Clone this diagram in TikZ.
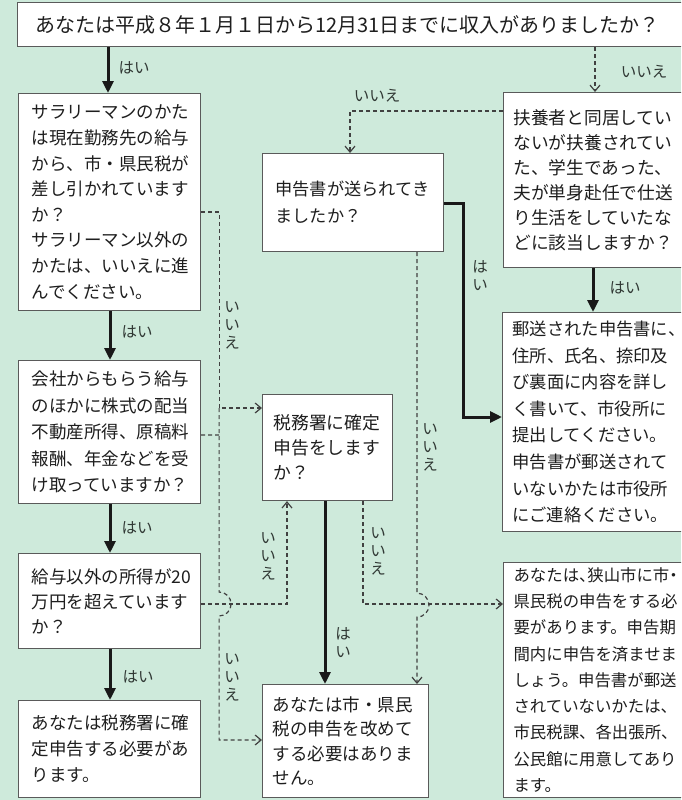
\documentclass[tikz,border=0pt]{standalone}
\usepackage{fontspec}
\setmainfont{Noto Sans CJK JP}
\newfontfamily\jphalt[RawFeature=+halt]{Noto Sans CJK JP}
\newcommand{\hw}[1]{{\jphalt #1}}
\usetikzlibrary{arrows.meta,calc}
\definecolor{bgmint}{RGB}{206,234,219}
\definecolor{boxline}{RGB}{90,90,90}
\definecolor{txt}{RGB}{30,30,30}
\definecolor{lblc}{RGB}{48,56,52}
\definecolor{dashc}{RGB}{65,65,65}
\hfuzz=100pt
\hbadness=10000
\begin{document}
\begin{tikzpicture}[x=1pt,y=-1pt,
  box/.style={draw=boxline,line width=1.1pt,fill=white,anchor=north west,inner sep=0pt,align=left,text=txt},
  yesarrow/.style={line width=3pt,draw=black!90,-{Triangle[length=12pt,width=11pt]}},
  noarrow/.style={line width=1.2pt,draw=dashc,dash pattern=on 4pt off 3pt,-{Straight Barb[length=6pt,width=10pt]}},
  lbl/.style={text=lblc,font=\fontsize{15.5}{18}\selectfont,inner sep=0pt,align=center},
]
\useasboundingbox (0,0) rectangle (681,800);
\clip (0,0) rectangle (681,800);
\fill[bgmint] (0,0) rectangle (681,800);

% boxes
\node[box,minimum width=683pt,minimum height=44pt,text width=647pt,font=\fontsize{20}{24}\selectfont] (T) at (17,2)
  {あなたは平成８年１月１日から12月31日までに収入がありましたか？};
\node[box,minimum width=182pt,minimum height=217pt,text width=156pt,font=\fontsize{17.5}{25.6}\selectfont] (A) at (18,93)
  {サラリーマンのかた\\は現在勤務先の給与\\から、市・県民税が\\差し引かれています\\か？\\サラリーマン以外の\\かたは、いいえに進\\んでください。};
\node[box,minimum width=182pt,minimum height=143pt,text width=156pt,font=\fontsize{17.5}{26.5}\selectfont] (B) at (18,360)
  {会社からもらう給与\\のほかに株式の配当\\不動産所得、原稿料\\報酬、年金などを受\\け取っていますか？};
\node[box,minimum width=182pt,minimum height=95pt,text width=156pt,font=\fontsize{17.5}{25}\selectfont] (C) at (18,553)
  {給与以外の所得が20\\万円を超えています\\か？};
\node[box,minimum width=182pt,minimum height=97pt,text width=156pt,font=\fontsize{17.5}{26}\selectfont] (D) at (18,700)
  {あなたは税務署に確\\定申告する必要があ\\ります。};
\node[box,minimum width=181pt,minimum height=98pt,text width=155pt,font=\fontsize{17.2}{27}\selectfont] (E) at (262,153)
  {申告書が送られてき\\ましたか？};
\node[box,minimum width=130pt,minimum height=106pt,text width=108pt,font=\fontsize{17.8}{25}\selectfont] (F) at (262,394)
  {税務署に確定\\申告をします\\か？};
\node[box,minimum width=166pt,minimum height=113pt,text width=146pt,font=\fontsize{17.5}{24.5}\selectfont] (G) at (262,684)
  {あなたは市・県民\\税の申告を改めて\\する必要はありま\\せん。};
\node[box,minimum width=200pt,minimum height=175pt,text width=180pt,font=\fontsize{17.7}{25}\selectfont] (H) at (503,92)
  {扶養者と同居してい\\ないが扶養されてい\\た、学生であった、\\夫が単身赴任で仕送\\り生活をしていたな\\どに該当しますか？};
\node[box,minimum width=200pt,minimum height=219pt,text width=180pt,font=\fontsize{17.3}{26.6}\selectfont] (I) at (502,312)
  {郵送された申告書に\hw{、}\\住所、氏名、捺印及\\び裏面に内容を詳し\\く書いて、市役所に\\提出してください。\\申告書が郵送されて\\いないかたは市役所\\にご連絡ください。};
\node[box,minimum width=200pt,minimum height=235pt,text width=180pt,font=\fontsize{16.4}{26.25}\selectfont] (J) at (503,562)
  {あなたは\hw{、}狭山市に市\hw{・}\\県民税の申告をする必\\要があります。申告期\\間内に申告を済ませま\\しょう。申告書が郵送\\されていないかたは、\\市民税課、各出張所、\\公民館に用意してあり\\ます。};

% solid (yes) connectors
\draw[yesarrow] ($(T.south west)+(91,0)$) -- ($(A.north west)+(90,0)$);
\draw[yesarrow] ($(A.south west)+(92,0)$) -- ($(B.north west)+(92,0)$);
\draw[yesarrow] ($(B.south west)+(92,0)$) -- ($(C.north west)+(92,0)$);
\draw[yesarrow] ($(C.south west)+(92,0)$) -- ($(D.north west)+(92,0)$);
\draw[yesarrow] ($(H.south west)+(90,0)$) -- ($(I.north west)+(91,0)$);
\draw[yesarrow] ($(E.north east)+(0,50)$) -- ++(19,0) |- ($(I.north west)+(0,105)$);
\draw[yesarrow] ($(F.south west)+(63,0)$) -- ($(G.north west)+(63,0)$);

% dashed (no) connectors
\draw[noarrow] ($(T.south west)+(578,0)$) -- ($(H.north west)+(92,0)$);
\draw[noarrow] ($(H.north west)+(0,19)$) -| ($(E.north west)+(88,0)$);
\draw[noarrow] ($(E.south west)+(155,0)$) -- ++(0,341) arc[start angle=-90,end angle=90,radius=12] -- ($(G.north west)+(155,0)$);
\draw[noarrow] ($(A.north east)+(0,119)$) -- ++(18,0) |- ($(F.north west)+(0,14)$);
\draw[noarrow] ($(B.north east)+(0,75)$) -- ++(18,0) ++(0,-27) -- ++(0,184) arc[start angle=-90,end angle=90,radius=12] |- ($(G.north west)+(0,56)$);
\draw[noarrow] ($(C.north east)+(0,51)$) -| ($(F.south west)+(25,0)$);
\draw[noarrow] ($(F.south west)+(101,0)$) |- ($(J.north west)+(0,42)$);

% labels
\node[lbl] (lTA) at (134,68) {はい};
\node[lbl] (lTH) at (644,72) {いいえ};
\node[lbl] (lHE) at (377,96) {いいえ};
\node[lbl] (lAB) at (137,332) {はい};
\node[lbl] (lBC) at (137,528) {はい};
\node[lbl] (lCD) at (138,677) {はい};
\node[lbl] (lHI) at (625,288) {はい};
\node[lbl] (lAF) at (232,325) {い\\い\\え};
\node[lbl] (lBG) at (232,677) {い\\い\\え};
\node[lbl] (lCF) at (268,556) {い\\い\\え};
\node[lbl] (lFJ) at (378,551) {い\\い\\え};
\node[lbl] (lEG) at (430,447) {い\\い\\え};
\node[lbl] (lEI) at (480,276) {は\\い};
\node[lbl] (lFG) at (343,643) {は\\い};
\end{tikzpicture}
\end{document}
